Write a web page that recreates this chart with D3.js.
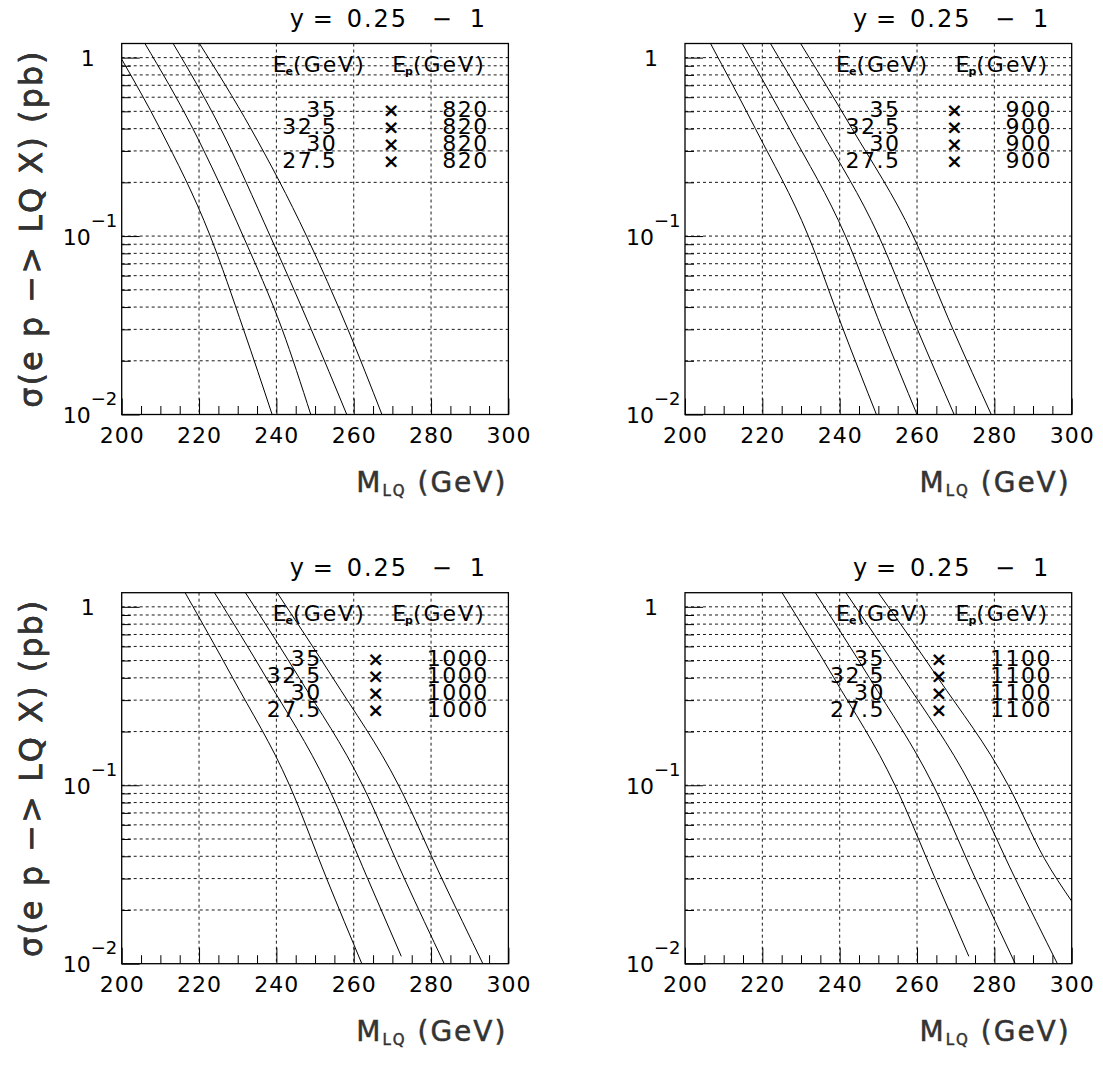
<!DOCTYPE html>
<html>
<head>
<meta charset="utf-8">
<script src="https://cdn.jsdelivr.net/npm/d3@7"></script>
<style>
  body { margin: 0; background: #fff; }
  svg { display: block; font-family: 'DejaVu Sans', sans-serif; }
  .grid line { stroke: #000; stroke-width: 0.9; stroke-dasharray: 3,3; }
  .ticks line { stroke: #000; stroke-width: 1; }
  .ticks path { display: none; }
</style>
</head>
<body>
<svg id="chart" width="1103" height="1065"></svg>
<script>
'use strict';

// electron beam energies (one curve each), proton beam energy per panel
const eeValues = [35, 32.5, 30, 27.5];
const epValues = [820, 900, 1000, 1100];
const massTicks = [200, 220, 240, 260, 280, 300];
const sigmaLabels = [
  {v: 1, base: '1', exp: ''},
  {v: 0.1, base: '10', exp: '\u22121'},
  {v: 0.01, base: '10', exp: '\u22122'}
];
const titleParts = ['y', '=', '0.25', '\u2212', '1'];

// [M_LQ (GeV), sigma (pb)]; order follows eeValues
const curves820 = [
  [[220.1, 1.2], [233.4, 0.4], [247.8, 0.1], [258.5, 0.03], [267.3, 0.01]],
  [[213.3, 1.2], [225.6, 0.4], [238.4, 0.1], [249.0, 0.03], [258.2, 0.01]],
  [[206.0, 1.2], [218.4, 0.4], [231.4, 0.1], [241.5, 0.03], [248.9, 0.01]],
  [[200.0, 0.98], [209.9, 0.4], [222.9, 0.1], [231.5, 0.03], [238.9, 0.01]]
];
const curves900 = [
  [[229.9, 1.2], [243.2, 0.4], [259.0, 0.1], [269.3, 0.03], [279.2, 0.01]],
  [[222.1, 1.2], [234.9, 0.4], [250.1, 0.1], [260.1, 0.03], [269.6, 0.01]],
  [[214.8, 1.2], [227.0, 0.4], [241.5, 0.1], [251.0, 0.03], [260.0, 0.01]],
  [[206.6, 1.2], [218.2, 0.4], [231.9, 0.1], [240.9, 0.03], [249.5, 0.01]]
];
const curves1000 = [
  [[240.2, 1.2], [254.6, 0.4], [271.6, 0.1], [282.8, 0.03], [293.4, 0.01]],
  [[232.0, 1.2], [245.9, 0.4], [262.3, 0.1], [273.1, 0.03], [283.4, 0.01]],
  [[224.0, 1.2], [237.4, 0.4], [253.2, 0.1], [263.6, 0.03], [272.3, 0.011]],
  [[216.4, 1.2], [228.7, 0.4], [243.4, 0.1], [253.0, 0.03], [262.1, 0.01]]
];
const curves1100 = [
  [[250.0, 1.2], [265.4, 0.4], [283.6, 0.1], [292.9, 0.039], [300.0, 0.0224]],
  [[241.6, 1.2], [256.4, 0.4], [273.9, 0.1], [285.4, 0.03], [296.3, 0.01]],
  [[233.7, 1.2], [247.7, 0.4], [264.2, 0.1], [275.1, 0.03], [285.4, 0.01]],
  [[225.1, 1.2], [238.5, 0.4], [254.3, 0.1], [264.7, 0.03], [273.4, 0.011]]
];

const allCurves = [curves820, curves900, curves1000, curves1100];

const frameW = 386.7;
const frameH = 371;
const panelLeft = [121.7, 685];
const panelTop = [43.5, 592.7];
const titleX = [168, 191, 225, 310, 348];

const svg = d3.select('#chart');

function drawPanel(ix) {
  const ep = epValues[ix];
  const curves = allCurves[ix];
  const left = panelLeft[ix % 2];
  const top = panelTop[Math.floor(ix / 2)];

  const x = d3.scaleLinear().domain([200, 300]).range([0, frameW]);
  const y = d3.scaleLog().domain([0.01, 1.2]).range([frameH, 0]);

  const g = svg.append('g').attr('transform', `translate(${left},${top})`);

  g.append('clipPath').attr('id', `clip${ix}`)
    .append('rect').attr('width', frameW).attr('height', frameH);

  // dotted grid
  const grid = g.append('g').attr('class', 'grid');
  grid.selectAll('.hg')
    .data(y.ticks().filter(v => v > 0.01 && v <= 1.2))
    .join('line')
    .attr('class', 'hg')
    .attr('x1', 0).attr('x2', frameW)
    .attr('y1', d => y(d)).attr('y2', d => y(d));
  grid.selectAll('.vg')
    .data(massTicks.slice(1, -1))
    .join('line')
    .attr('class', 'vg')
    .attr('x1', d => x(d)).attr('x2', d => x(d))
    .attr('y1', 0).attr('y2', frameH);

  // inward ticks
  const minorMass = d3.range(200, 301, 5).filter(v => v % 20 !== 0);
  g.append('g').attr('class', 'ticks')
    .attr('transform', `translate(0,${frameH})`)
    .call(d3.axisBottom(x).tickValues(minorMass).tickSize(-8.5).tickFormat(''));
  g.append('g').attr('class', 'ticks')
    .attr('transform', `translate(0,${frameH})`)
    .call(d3.axisBottom(x).tickValues(massTicks).tickSize(-16).tickFormat(''));

  const majorSigma = sigmaLabels.map(d => d.v);
  g.append('g').attr('class', 'ticks')
    .call(d3.axisLeft(y).tickValues(y.ticks().filter(v => !majorSigma.includes(v)))
      .tickSize(-9).tickFormat(''));
  g.append('g').attr('class', 'ticks')
    .call(d3.axisLeft(y).tickValues(majorSigma).tickSize(-18).tickFormat(''));

  // curves
  const line = d3.line()
    .x(d => x(d[0]))
    .y(d => y(d[1]))
    .curve(d3.curveMonotoneX);
  g.append('g').attr('clip-path', `url(#clip${ix})`)
    .selectAll('path')
    .data(curves)
    .join('path')
    .attr('d', line)
    .attr('fill', 'none')
    .attr('stroke', '#000')
    .attr('stroke-width', 1);

  // frame
  g.append('rect')
    .attr('width', frameW).attr('height', frameH)
    .attr('fill', 'none').attr('stroke', '#000').attr('stroke-width', 1.3);

  // x tick labels
  g.append('g').selectAll('text')
    .data(massTicks)
    .join('text')
    .attr('x', d => x(d) + 0.5)
    .attr('y', frameH + 28.5)
    .attr('text-anchor', 'middle')
    .attr('font-size', 22)
    .attr('letter-spacing', 1)
    .text(d => d);

  // y tick labels
  const yl = g.append('g').selectAll('text')
    .data(sigmaLabels)
    .join('text')
    .attr('font-size', 22)
    .attr('y', d => y(d.v) + 8.5)
    .attr('x', d => d.exp ? -59 : -27)
    .attr('text-anchor', d => d.exp ? 'start' : 'end');
  yl.append('tspan').text(d => d.base);
  yl.filter(d => d.exp).append('tspan')
    .attr('dy', -18).attr('font-size', 18)
    .text(d => d.exp);

  // axis titles
  const xt = g.append('text')
    .attr('x', frameW - 1).attr('y', frameH + 77.5)
    .attr('text-anchor', 'end')
    .attr('font-size', 28)
    .attr('letter-spacing', 2)
    .attr('fill', '#333').attr('stroke', '#333').attr('stroke-width', 0.5);
  xt.append('tspan').text('M');
  xt.append('tspan').attr('font-size', 15).attr('dy', 4).text('LQ');
  xt.append('tspan').attr('dy', -4).text(' (GeV)');

  g.append('text')
    .attr('transform', `translate(${-left + 42},6) rotate(-90)`)
    .attr('text-anchor', 'end')
    .attr('font-size', 32)
    .attr('letter-spacing', 2)
    .attr('fill', '#333').attr('stroke', '#333').attr('stroke-width', 0.4)
    .text('\u03c3(e p \u2212> LQ X) (pb)');

  // top title
  g.append('g').selectAll('text')
    .data(titleParts)
    .join('text')
    .attr('x', (d, i) => titleX[i]).attr('y', -16.5)
    .attr('font-size', 24)
    .attr('letter-spacing', 2)
    .text(d => d);

  // legend header
  const hdr = [{lab: 'e', x: 151}, {lab: 'p', x: 270.5}];
  const h = g.append('g').selectAll('text')
    .data(hdr)
    .join('text')
    .attr('x', d => d.x).attr('y', 28.5)
    .attr('font-size', 22)
    .attr('letter-spacing', 2);
  h.append('tspan').text('E');
  h.append('tspan').attr('font-size', 11).attr('font-weight', 'bold')
    .attr('dy', 3).attr('dx', -3).text(d => d.lab);
  h.append('tspan').attr('dy', -3).attr('dx', -2).text('(GeV)');

  // legend rows
  const rows = g.append('g').selectAll('g')
    .data(eeValues)
    .join('g')
    .attr('transform', (d, i) => `translate(0,${73.5 + 17 * i})`);
  const epText = rows.append('text')
    .attr('x', 367).attr('text-anchor', 'end')
    .attr('font-size', 22)
    .attr('letter-spacing', 1.5)
    .text(ep);
  rows.each(function(d, i) {
    const row = d3.select(this);
    const epLeft = 367 - epText.nodes()[i].getComputedTextLength();
    const cx = epLeft - 51;
    row.append('text')
      .attr('x', cx).attr('text-anchor', 'middle')
      .attr('font-size', 20).attr('font-weight', 'bold')
      .text('\u00d7');
    row.append('text')
      .attr('x', cx - 54).attr('text-anchor', 'end')
      .attr('font-size', 22)
      .attr('letter-spacing', 1.5)
      .text(d);
  });
}

epValues.forEach((ep, ix) => drawPanel(ix));
</script>
</body>
</html>
